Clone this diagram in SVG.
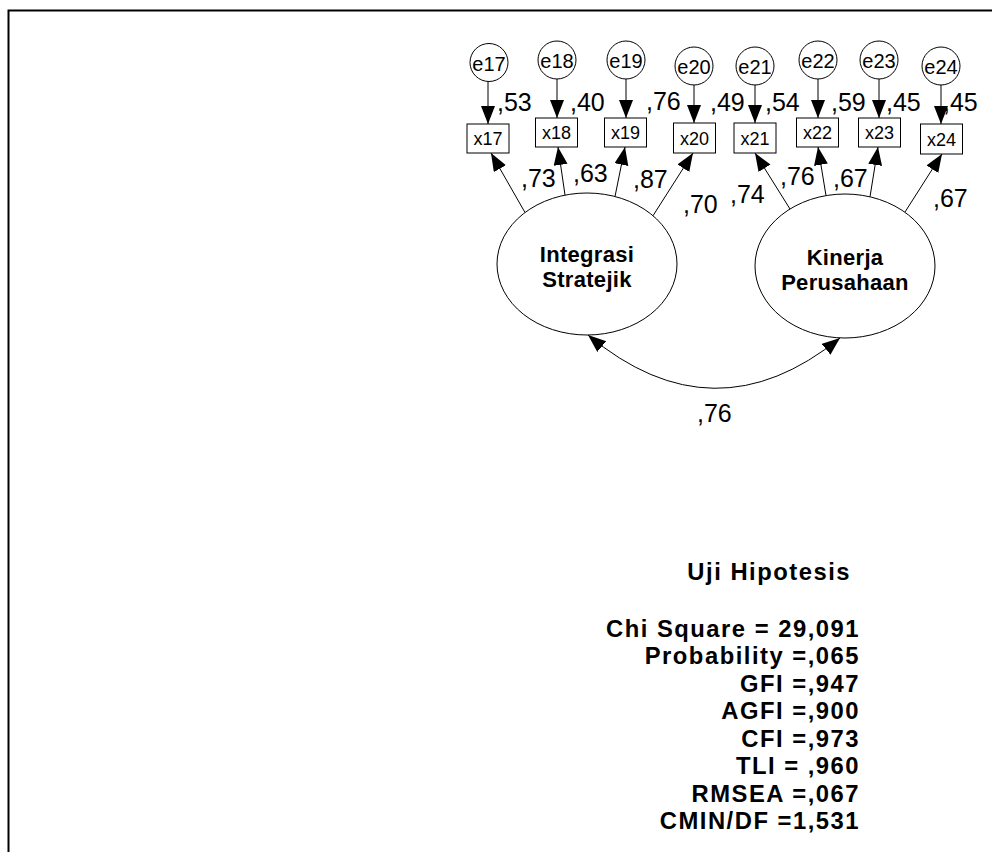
<svg xmlns="http://www.w3.org/2000/svg" width="992" height="852" viewBox="0 0 992 852">
<style>
.ln{stroke:#000;stroke-width:1;fill:none}
.arr{marker-end:url(#ah)}
.shape{fill:#fff;stroke:#000;stroke-width:1}
.t{font-family:"Liberation Sans",Arial,sans-serif;fill:#000}
.e{font-size:20px;text-anchor:middle}
.x{font-size:18px;text-anchor:middle}
.lb{font-size:25px}
.lat{font-size:22px;font-weight:bold;text-anchor:middle;letter-spacing:0.3px}
.st{font-size:23.8px;font-weight:bold;text-anchor:end;letter-spacing:1.5px}
</style>
<defs>
<marker id="ah" markerUnits="userSpaceOnUse" markerWidth="20" markerHeight="16" refX="18" refY="7" orient="auto-start-reverse">
<path d="M0,0 L18,7 L0,14 z" fill="#000"/>
</marker>
</defs>
<rect width="992" height="852" fill="#fff"/>
<g id="frame"><path d="M992,10.5 H8.5 V852" stroke="#000" stroke-width="2" fill="none"/></g>

<g id="connectors">
<line class="ln arr" x1="488" y1="81.5" x2="488" y2="124"/>
<line class="ln arr" x1="557" y1="79" x2="557" y2="118"/>
<line class="ln arr" x1="626" y1="79" x2="626" y2="118"/>
<line class="ln arr" x1="694" y1="85" x2="694" y2="123"/>
<line class="ln arr" x1="755" y1="85" x2="755" y2="123"/>
<line class="ln arr" x1="818" y1="79" x2="818" y2="118"/>
<line class="ln arr" x1="879" y1="79" x2="879" y2="118"/>
<line class="ln arr" x1="941" y1="85" x2="941" y2="124"/>

<line class="ln arr" x1="525" y1="212.5" x2="491" y2="153"/>
<line class="ln arr" x1="565" y1="195" x2="558" y2="147"/>
<line class="ln arr" x1="615" y1="196.5" x2="625" y2="147"/>
<line class="ln arr" x1="653" y1="215.7" x2="693" y2="153"/>
<line class="ln arr" x1="790" y1="209" x2="755" y2="153"/>
<line class="ln arr" x1="826" y1="195.6" x2="818" y2="147"/>
<line class="ln arr" x1="870" y1="196.8" x2="878" y2="147"/>
<line class="ln arr" x1="905" y1="212" x2="942" y2="154"/>

<path class="ln" d="M588,335 Q714,440 840,338" marker-start="url(#ah)" marker-end="url(#ah)"/>
</g>

<g id="e17"><circle class="shape" cx="489" cy="62.5" r="19"/><text class="t e" x="489" y="70.5">e17</text></g>
<g id="e18"><circle class="shape" cx="557" cy="60" r="19"/><text class="t e" x="557" y="68">e18</text></g>
<g id="e19"><circle class="shape" cx="626" cy="60" r="19"/><text class="t e" x="626" y="68">e19</text></g>
<g id="e20"><circle class="shape" cx="694" cy="66" r="19"/><text class="t e" x="694" y="74">e20</text></g>
<g id="e21"><circle class="shape" cx="755" cy="66" r="19"/><text class="t e" x="755" y="74">e21</text></g>
<g id="e22"><circle class="shape" cx="818" cy="60" r="19"/><text class="t e" x="818" y="68">e22</text></g>
<g id="e23"><circle class="shape" cx="879" cy="60" r="19"/><text class="t e" x="879" y="68">e23</text></g>
<g id="e24"><circle class="shape" cx="941" cy="66" r="19"/><text class="t e" x="941" y="74">e24</text></g>

<g id="x17"><rect class="shape" x="467" y="124" width="42" height="29"/><text class="t x" x="488" y="145">x17</text></g>
<g id="x18"><rect class="shape" x="535.5" y="118" width="42" height="29"/><text class="t x" x="556.5" y="139">x18</text></g>
<g id="x19"><rect class="shape" x="604.5" y="118" width="42" height="29"/><text class="t x" x="625.5" y="139">x19</text></g>
<g id="x20"><rect class="shape" x="673.5" y="123" width="42" height="30"/><text class="t x" x="694.5" y="145">x20</text></g>
<g id="x21"><rect class="shape" x="734" y="123" width="42" height="30"/><text class="t x" x="755" y="145">x21</text></g>
<g id="x22"><rect class="shape" x="796.5" y="118" width="42" height="29"/><text class="t x" x="817.5" y="139">x22</text></g>
<g id="x23"><rect class="shape" x="858.5" y="118" width="42" height="29"/><text class="t x" x="879.5" y="139">x23</text></g>
<g id="x24"><rect class="shape" x="920.5" y="124" width="42" height="30"/><text class="t x" x="941.5" y="146">x24</text></g>

<g id="integrasi"><ellipse class="shape" cx="587" cy="264" rx="90" ry="71"/>
<text class="t lat" x="587" y="261.5">Integrasi</text><text class="t lat" x="587" y="286.5">Stratejik</text></g>
<g id="kinerja"><ellipse class="shape" cx="845" cy="266" rx="90" ry="72"/>
<text class="t lat" x="845" y="265">Kinerja</text><text class="t lat" x="845" y="290">Perusahaan</text></g>

<g id="labels">
<text class="t lb" x="497" y="111">,53</text>
<text class="t lb" x="570" y="111">,40</text>
<text class="t lb" x="646" y="110">,76</text>
<text class="t lb" x="710" y="111">,49</text>
<text class="t lb" x="765" y="111">,54</text>
<text class="t lb" x="831" y="111">,59</text>
<text class="t lb" x="886" y="111">,45</text>
<text class="t lb" x="943" y="111">,45</text>
<text class="t lb" x="521" y="187">,73</text>
<text class="t lb" x="573" y="182">,63</text>
<text class="t lb" x="633" y="188">,87</text>
<text class="t lb" x="683" y="213">,70</text>
<text class="t lb" x="730" y="203">,74</text>
<text class="t lb" x="780" y="185">,76</text>
<text class="t lb" x="833" y="187">,67</text>
<text class="t lb" x="933" y="207">,67</text>
<text class="t lb" x="697" y="422">,76</text>
</g>

<g id="stats">
<text class="t st" x="851" y="580">Uji Hipotesis</text>
<text class="t st" x="860" y="637">Chi Square = 29,091</text>
<text class="t st" x="860" y="664.4">Probability =,065</text>
<text class="t st" x="860" y="691.9">GFI =,947</text>
<text class="t st" x="860" y="719.3">AGFI =,900</text>
<text class="t st" x="860" y="746.7">CFI =,973</text>
<text class="t st" x="860" y="774.1">TLI = ,960</text>
<text class="t st" x="860" y="801.6">RMSEA =,067</text>
<text class="t st" x="860" y="829">CMIN/DF =1,531</text>
</g>
</svg>
